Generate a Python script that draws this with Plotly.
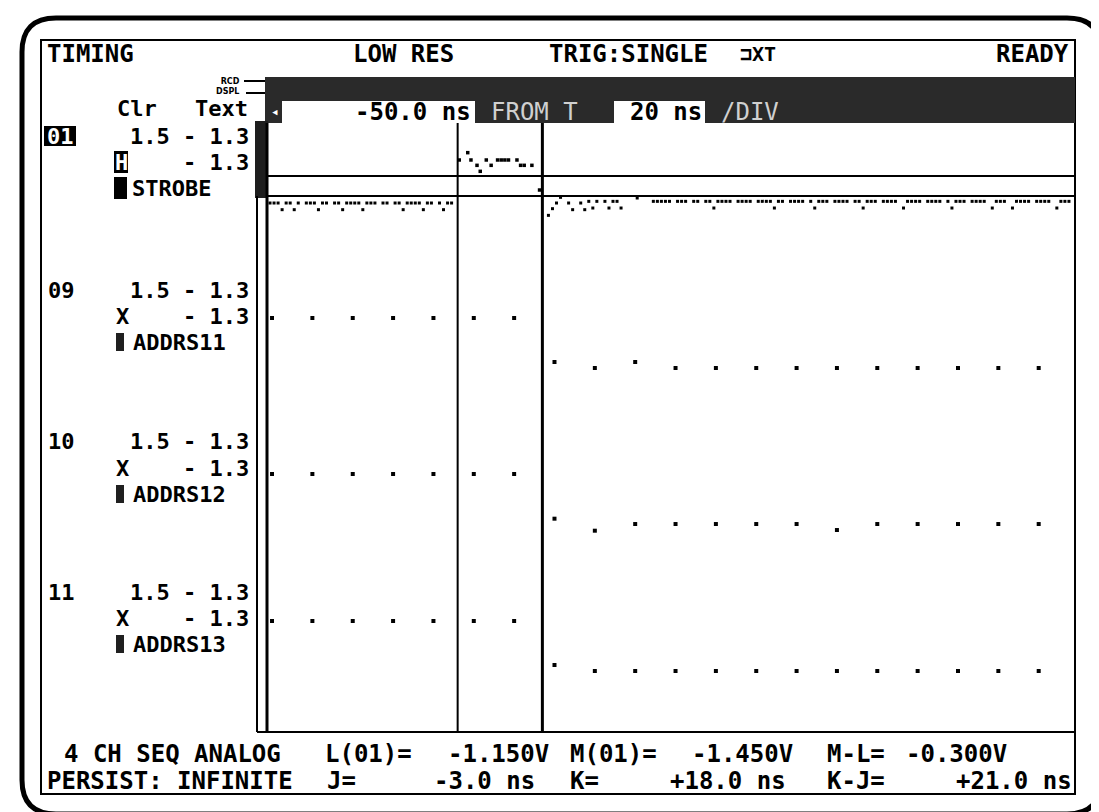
import plotly.graph_objects as go

W, H = 1099, 812

# ---------------- data ----------------
# address channels, one sample every 10 ns (ns)
sample_t = [-49, -39, -29, -19, -9, 1, 11, 21, 31, 41, 51, 61, 71, 81, 91, 101, 111, 121, 131, 141]
addrs11 = [-0.90, -0.90, -0.90, -0.90, -0.90, -0.90, -0.90, -1.56, -1.65, -1.56,
           -1.65, -1.65, -1.65, -1.65, -1.65, -1.65, -1.65, -1.65, -1.65, -1.65]
addrs12 = [-0.90, -0.90, -0.90, -0.90, -0.90, -0.90, -0.90, -1.57, -1.75, -1.65,
           -1.65, -1.65, -1.65, -1.65, -1.74, -1.65, -1.65, -1.65, -1.65, -1.65]
addrs13 = [-0.90, -0.90, -0.90, -0.90, -0.90, -0.90, -0.90, -1.56, -1.65, -1.65,
           -1.65, -1.65, -1.65, -1.65, -1.65, -1.65, -1.65, -1.65, -1.65, -1.65]

# strobe channel, sequential samples (1 ns apart) before J cursor
strobe_pre_start = -49.5
strobe_pre = [-1.555, -1.555, -1.555, -1.655, -1.555, -1.555, -1.655, -1.555, None, -1.555,
              -1.555, -1.555, -1.655, -1.555, -1.555, None, -1.555, -1.555, -1.655, -1.555,
              -1.555, -1.555, -1.555, -1.655, -1.555, -1.555, -1.555, None, -1.555, -1.555,
              None, -1.555, -1.555, -1.655, -1.555, -1.555, -1.555, -1.555, -1.655, -1.555,
              -1.555, None, -1.555, -1.655, -1.555, -1.555]
# strobe between J and K cursors
strobe_hi_t = [-2.6, -0.5, 0.3, 1.8, 2.6, 4.1, 5.3, 6.9, 7.8, 8.7, 9.6, 11.7, 12.6, 13.5, 15.4, 17.3]
strobe_hi_v = [-0.91, -0.80, -0.91, -0.99, -1.08, -0.91, -0.99, -0.91, -0.91, -0.91,
               -0.91, -0.91, -0.99, -0.99, -0.99, -1.36]
# strobe after K cursor (1 ns apart)
strobe_post_start = 19.5
strobe_post = [-1.74, -1.64, -1.555, -1.47, None, -1.555, -1.655, None, -1.555, -1.655,
               -1.53, -1.63, -1.53, None, -1.53, -1.63, -1.53, -1.53, -1.63, None,
               None, None, -1.48, None, None, None, -1.53, -1.53, -1.53, -1.53,
               -1.53, None, -1.53, -1.53, -1.53, None, -1.53, -1.53, None, -1.53,
               -1.53, -1.63, -1.53, -1.53, -1.53, -1.53, None, -1.53, -1.53, -1.53,
               -1.53, None, -1.53, -1.53, -1.53, -1.53, -1.63, -1.53, -1.53, None,
               -1.53, -1.53, -1.53, -1.53, None, -1.53, -1.63, -1.53, -1.53, -1.53,
               None, -1.53, -1.53, -1.53, -1.53, None, -1.53, -1.53, -1.63, -1.53,
               -1.53, -1.53, None, -1.53, -1.53, -1.53, -1.53, None, -1.63, -1.53,
               -1.53, -1.53, -1.53, None, -1.53, -1.53, -1.53, -1.53, None, -1.53,
               -1.63, -1.53, -1.53, -1.53, None, -1.53, -1.53, -1.53, -1.53, None,
               -1.63, -1.53, -1.53, -1.53, None, -1.63, -1.53, -1.53, -1.53, -1.53,
               None, -1.53, -1.53, -1.53, -1.53, None, -1.63, -1.53, -1.53, -1.53]

time_range = [-50, 150]          # -50.0 ns FROM T, 20 ns/DIV, 10 div
cursor_J, cursor_K = -3.0, 18.0  # ns
cursor_L, cursor_M = -1.150, -1.450  # V on channel 01

channels = ["01", "09", "10", "11"]
channel_names = ["STROBE", "ADDRS11", "ADDRS12", "ADDRS13"]
channel_clr = ["H", "X", "X", "X"]
threshold_text = "1.5 - 1.3"
clr_text = "- 1.3"

header = ["TIMING", "LOW RES", "TRIG:SINGLE", "READY"]
bottom1 = ["4 CH SEQ ANALOG", "L(01)=", "-1.150V", "M(01)=", "-1.450V", "M-L=", "-0.300V"]
bottom2 = ["PERSIST: INFINITE", "J=", "-3.0 ns", "K=", "+18.0 ns", "K-J=", "+21.0 ns"]

# ---------------- layout geometry (pixels) ----------------
PLOT_L, PLOT_R, PLOT_T, PLOT_B = 260, 1067, 115, 724
SCREEN_B = 786
ROW1, ROW2 = 746, 773
PPV = 66.7  # pixels per volt
# (reference volts, reference pixel, band top, band bottom)
bands = [(-1.15, 168, 115, 250), (-0.90, 310, 250, 410), (-0.90, 466, 410, 560), (-0.90, 613, 560, 724)]
label_rows = [(128, 154, 180), (282, 308, 334), (434, 460, 486), (584, 610, 636)]

FONT = "DejaVu Sans Mono"
LBL = 22  # size of the stacked channel labels


def fx(x):
    return x / W


def fy(y):
    return 1 - y / H


fig = go.Figure()

ax_names = ["y", "y2", "y3", "y4"]

# traces
fig.add_trace(go.Scatter(x0=strobe_pre_start, dx=1, y=strobe_pre, mode="markers", yaxis="y",
                         marker=dict(symbol="square", size=3, color="black"), showlegend=False))
fig.add_trace(go.Scatter(x=strobe_hi_t, y=strobe_hi_v, mode="markers", yaxis="y",
                         marker=dict(symbol="square", size=3.5, color="black"), showlegend=False))
fig.add_trace(go.Scatter(x0=strobe_post_start, dx=1, y=strobe_post, mode="markers", yaxis="y",
                         marker=dict(symbol="square", size=3, color="black"), showlegend=False))
for series, ax in zip([addrs11, addrs12, addrs13], ax_names[1:]):
    fig.add_trace(go.Scatter(x=sample_t, y=series, mode="markers", yaxis=ax,
                             marker=dict(symbol="square", size=4, color="black"), showlegend=False))

layout_axes = {}
for i, (vref, pref, top, bot) in enumerate(bands):
    vtop = vref + (pref - top) / PPV
    vbot = vref - (bot - pref) / PPV
    key = "yaxis" if i == 0 else f"yaxis{i+1}"
    layout_axes[key] = dict(domain=[fy(bot), fy(top)], range=[vbot, vtop], anchor="x",
                            visible=False, showgrid=False, zeroline=False, fixedrange=True)

shapes = []


def rect(x0, y0, x1, y1, fill="black", lw=0, lc="black"):
    shapes.append(dict(type="rect", xref="paper", yref="paper", x0=fx(x0), x1=fx(x1), y0=fy(y1), y1=fy(y0),
                       fillcolor=fill, line=dict(width=lw, color=lc), layer="below"))


def line(x0, y0, x1, y1, w=2, color="black"):
    shapes.append(dict(type="line", xref="paper", yref="paper", x0=fx(x0), x1=fx(x1), y0=fy(y0), y1=fy(y1),
                       line=dict(width=w, color=color)))


def P(x, y):
    return f"{fx(x):.5f},{fy(y):.5f}"


# outer rounded bezel
ox0, oy0, ox1, oy1, r = 14, 10, 1093, 806, 34
path = (f"M {P(ox0 + r, oy0)} L {P(ox1 - r, oy0)} Q {P(ox1, oy0)} {P(ox1, oy0 + r)} "
        f"L {P(ox1, oy1 - r)} Q {P(ox1, oy1)} {P(ox1 - r, oy1)} L {P(ox0 + r, oy1)} "
        f"Q {P(ox0, oy1)} {P(ox0, oy1 - r)} L {P(ox0, oy0 + r)} Q {P(ox0, oy0)} {P(ox0 + r, oy0)} Z")
shapes.append(dict(type="path", xref="paper", yref="paper", path=path, line=dict(width=5, color="black")))

# inner screen frame
rect(33, 32, PLOT_R, SCREEN_B, fill="rgba(0,0,0,0)", lw=2)
# dark control band
rect(257, 69, PLOT_R, PLOT_T, fill="#2a2a2a")
rect(274, 93, 467, PLOT_T, fill="white")
rect(606, 93, 697, PLOT_T, fill="white")
# RCD/DSPL bracket
line(236, 73, 257, 73, 2)
line(238, 85, 257, 85, 2)
# dark bar left of strobe
rect(247, 113, PLOT_L, 190, fill="#1e1e1e")
# plot frame lines
line(249, 188, 249, PLOT_B, 2)
line(PLOT_L - 1, PLOT_T, PLOT_L - 1, PLOT_B, 3)
line(249, PLOT_B, PLOT_R, PLOT_B, 2)

# cursors (data coordinates)
for t, w in [(cursor_J, 2), (cursor_K, 3)]:
    shapes.append(dict(type="line", xref="x", yref="paper", x0=t, x1=t, y0=fy(PLOT_B), y1=fy(PLOT_T),
                       line=dict(width=w, color="black")))
for v in [cursor_L, cursor_M]:
    shapes.append(dict(type="line", xref="x", yref="y", x0=time_range[0], x1=time_range[1], y0=v, y1=v,
                       line=dict(width=2, color="black")))

# channel label blocks
rect(36, 118, 68, 138, fill="black")            # 01 inverse
rect(106, 143, 120, 165, fill="black")          # H box
rect(106, 169, 119, 191, fill="black")          # STROBE block
for rows in label_rows[1:]:
    rect(108, rows[2] - 9, 116, rows[2] + 9, fill="#202020")

annotations = []


def txt(s, x, y, anchor="left", size=24, color="black", weight="bold", family=FONT, align="left"):
    annotations.append(dict(text=s, x=fx(x), y=fy(y), xref="paper", yref="paper", xanchor=anchor,
                            yanchor="middle", showarrow=False, borderpad=0, align=align,
                            font=dict(family=family, size=size, color=color, weight=weight)))


# header
txt(header[0], 38, 46)
txt(header[1], 344, 46)
txt(header[2], 540, 46)
txt("⊐XT", 731, 46, size=20)
txt(header[3], 1062, 46, anchor="right")

# control band
txt("RCD<br>DSPL", 233, 79, anchor="right", size=8, family="DejaVu Sans", align="right")
txt("◂", 262, 103, size=13, color="white")
txt("-50.0 ns", 464, 104, anchor="right")
txt("FROM T", 482, 104, color="#d0d0d0", weight="normal")
txt("20 ns", 695, 104, anchor="right")
txt("/DIV", 712, 104, color="#d0d0d0", weight="normal")

# left panel
txt("Clr", 108, 101, size=LBL)
txt("Text", 186, 101, size=LBL)
for i, (ch, rows) in enumerate(zip(channels, label_rows)):
    r1, r2, r3 = rows
    if i == 0:
        txt(ch, 52, r1, anchor="center", color="white", size=LBL)
        txt(channel_clr[i], 113, r2, anchor="center", color="white", size=LBL)
        txt(channel_names[i], 123, r3, size=LBL)
    else:
        txt(ch, 39, r1, size=LBL)
        txt(channel_clr[i], 107, r2, size=LBL)
        txt(channel_names[i], 124, r3, size=LBL)
    txt(threshold_text, 242, r1, anchor="right", size=LBL)
    txt(clr_text, 242, r2, anchor="right", size=LBL)

# bottom status rows
txt(bottom1[0], 55, ROW1)
txt(bottom1[1], 316, ROW1)
txt(bottom1[2], 542, ROW1, anchor="right")
txt(bottom1[3], 561, ROW1)
txt(bottom1[4], 786, ROW1, anchor="right")
txt(bottom1[5], 818, ROW1)
txt(bottom1[6], 1000, ROW1, anchor="right")
txt(bottom2[0], 38, ROW2)
txt(bottom2[1], 318, ROW2)
txt(bottom2[2], 528, ROW2, anchor="right")
txt(bottom2[3], 561, ROW2)
txt(bottom2[4], 779, ROW2, anchor="right")
txt(bottom2[5], 818, ROW2)
txt(bottom2[6], 1065, ROW2, anchor="right")

fig.update_layout(
    width=W, height=H, autosize=False,
    margin=dict(l=0, r=0, t=0, b=0),
    paper_bgcolor="white", plot_bgcolor="rgba(0,0,0,0)",
    xaxis=dict(domain=[fx(PLOT_L), fx(PLOT_R)], range=time_range, visible=False,
               showgrid=False, zeroline=False, fixedrange=True),
    shapes=shapes, annotations=annotations, showlegend=False,
    **layout_axes,
)

fig.write_html("out.html")
